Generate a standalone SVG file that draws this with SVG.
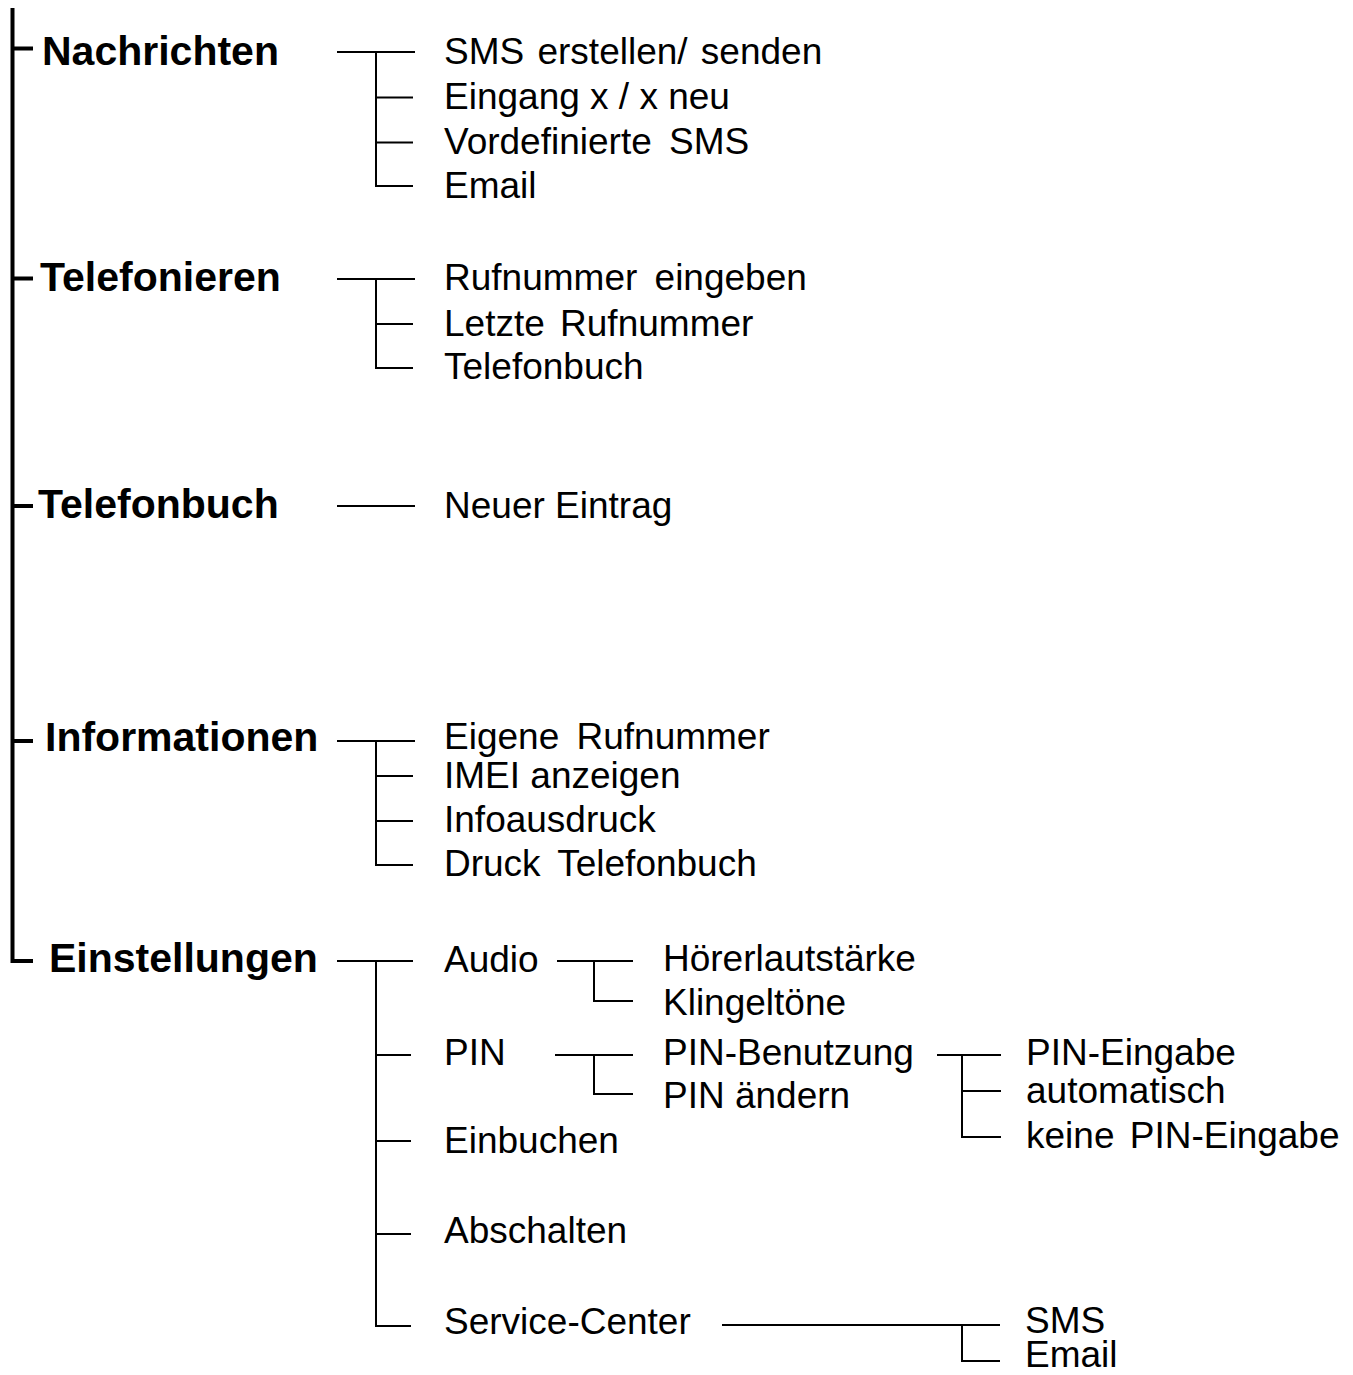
<svg xmlns="http://www.w3.org/2000/svg" width="1353" height="1375" viewBox="0 0 1353 1375">
<style>
.h{font-family:"Liberation Sans",Arial,sans-serif;font-weight:bold;font-size:41px;fill:#000}
.t{font-family:"Liberation Sans",Arial,sans-serif;font-size:37px;fill:#000}
.ws{word-spacing:5px}
.ws3{word-spacing:3px}
.ws7{word-spacing:7px}
.c{stroke:#000;stroke-width:2;fill:none}
.m{stroke:#000;stroke-width:4;fill:none}
</style>
<rect width="1353" height="1375" fill="#fff"/>
<g id="connectors">
<path class="m" d="M12.5 8V961H33M12.5 48.5H33M12.5 278.5H33M12.5 506H33M12.5 741H33"/>
<path class="c" d="M337 52H415M376 52V186H413M376 97.5H413M376 142.5H413"/>
<path class="c" d="M337 279H415M376 279V368H413M376 324H413"/>
<path class="c" d="M337 506H415"/>
<path class="c" d="M337 741H415M376 741V865H413M376 776H413M376 821H413"/>
<path class="c" d="M337 961H413M376 961V1326H411M376 1055H411M376 1141H411M376 1234H411"/>
<path class="c" d="M557 961H633M594 961V1001H633"/>
<path class="c" d="M555 1055H633M594 1055V1094H633"/>
<path class="c" d="M937 1055H1001M962 1055V1137H1001M962 1091H1001"/>
<path class="c" d="M722 1325H1000M962 1325V1361H1000"/>
</g>
<g id="n-nachrichten"><text class="h" x="42" y="65">Nachrichten</text></g>
<g id="n-sms-erstellen"><text class="t ws3" x="444" y="63.5">SMS erstellen/ senden</text></g>
<g id="n-eingang"><text class="t" x="444" y="109">Eingang x / x neu</text></g>
<g id="n-vordefiniert"><text class="t ws7" x="444" y="153.5">Vordefinierte SMS</text></g>
<g id="n-email1"><text class="t" x="444" y="197.5">Email</text></g>
<g id="n-telefonieren"><text class="h" x="40" y="291">Telefonieren</text></g>
<g id="n-rufnummer-eingeben"><text class="t ws7" x="444" y="290">Rufnummer eingeben</text></g>
<g id="n-letzte"><text class="t ws" x="444" y="335.5">Letzte Rufnummer</text></g>
<g id="n-telefonbuch-sub"><text class="t" x="444" y="378.5">Telefonbuch</text></g>
<g id="n-telefonbuch"><text class="h" x="38" y="518">Telefonbuch</text></g>
<g id="n-neuer-eintrag"><text class="t" x="444" y="518">Neuer Eintrag</text></g>
<g id="n-informationen"><text class="h" x="45" y="751">Informationen</text></g>
<g id="n-eigene"><text class="t ws7" x="444" y="749">Eigene Rufnummer</text></g>
<g id="n-imei"><text class="t" x="444" y="787.5">IMEI anzeigen</text></g>
<g id="n-infoausdruck"><text class="t" x="444" y="832">Infoausdruck</text></g>
<g id="n-druck"><text class="t ws7" x="444" y="875.5">Druck Telefonbuch</text></g>
<g id="n-einstellungen"><text class="h" x="49" y="972">Einstellungen</text></g>
<g id="n-audio"><text class="t" x="444" y="972">Audio</text></g>
<g id="n-hoerer"><text class="t" x="663" y="971">Hörerlautstärke</text></g>
<g id="n-klingel"><text class="t" x="663" y="1015">Klingeltöne</text></g>
<g id="n-pin"><text class="t" x="444" y="1065">PIN</text></g>
<g id="n-pin-benutzung"><text class="t" x="663" y="1065">PIN-Benutzung</text></g>
<g id="n-pin-aendern"><text class="t" x="663" y="1108">PIN ändern</text></g>
<g id="n-pin-eingabe"><text class="t" x="1026" y="1065">PIN-Eingabe</text></g>
<g id="n-automatisch"><text class="t" x="1026" y="1103">automatisch</text></g>
<g id="n-keine-pin"><text class="t ws" x="1026" y="1148">keine PIN-Eingabe</text></g>
<g id="n-einbuchen"><text class="t" x="444" y="1153">Einbuchen</text></g>
<g id="n-abschalten"><text class="t" x="444" y="1243">Abschalten</text></g>
<g id="n-service"><text class="t" x="444" y="1334">Service-Center</text></g>
<g id="n-sms"><text class="t" x="1025" y="1333">SMS</text></g>
<g id="n-email2"><text class="t" x="1025" y="1367">Email</text></g>
</svg>
